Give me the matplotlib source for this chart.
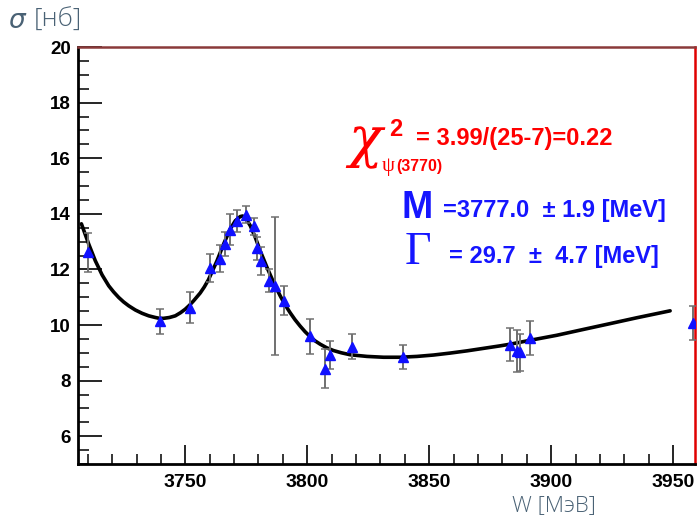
import matplotlib
matplotlib.use("Agg")
import matplotlib.pyplot as plt
from matplotlib.ticker import MultipleLocator

# measured cross section points: W [MeV], sigma [nb], error
energy = [3710.1, 3739.8, 3751.8, 3760.1, 3764.1, 3766.1, 3768.2, 3771.4,
          3775.0, 3778.0, 3779.5, 3781.1, 3784.5, 3786.7, 3790.3, 3801.2,
          3807.4, 3809.4, 3818.3, 3839.2, 3883.2, 3885.9, 3887.3, 3891.4,
          3958.3]
sigma = [12.61, 10.14, 10.62, 12.04, 12.38, 12.91, 13.42, 13.73,
         13.97, 13.55, 12.76, 12.31, 11.60, 11.40, 10.88, 9.60,
         8.42, 8.93, 9.21, 8.84, 9.29, 9.07, 9.02, 9.53,
         10.08]
sigma_err = [0.70, 0.45, 0.55, 0.50, 0.48, 0.43, 0.56, 0.40,
             0.31, 0.31, 0.41, 0.50, 0.40, 2.48, 0.53, 0.63,
             0.70, 0.50, 0.45, 0.44, 0.59, 0.75, 0.66, 0.61,
             0.62]

# fit curve
fit_w = [3707.4, 3710.4, 3713.1, 3715.9, 3718.6, 3720.6, 3722.7, 3724.7,
         3726.8, 3729.5, 3732.3, 3735.0, 3737.7, 3739.4, 3741.1, 3743.5,
         3745.9, 3748.0, 3750.0, 3751.7, 3753.4, 3756.1, 3757.8, 3759.5,
         3761.2, 3763.0, 3765.7, 3768.4, 3770.5, 3772.5, 3773.5, 3774.6,
         3776.6, 3778.7, 3780.7, 3783.5, 3786.2, 3788.9, 3790.9, 3793.0,
         3795.0, 3797.1, 3799.1, 3801.2, 3803.2, 3805.3, 3808.0, 3810.8,
         3814.0, 3817.6, 3824.5, 3831.3, 3838.1, 3845.0, 3851.8, 3858.6,
         3865.5, 3872.3, 3879.1, 3883.2, 3891.4, 3902.3, 3913.2, 3924.2,
         3935.1, 3948.8]
fit_s = [13.64, 12.91, 12.31, 11.80, 11.41, 11.19, 10.99, 10.83,
         10.69, 10.54, 10.42, 10.33, 10.27, 10.24, 10.24, 10.27,
         10.33, 10.44, 10.57, 10.71, 10.87, 11.15, 11.37, 11.63,
         11.96, 12.31, 12.91, 13.45, 13.75, 13.90, 13.92, 13.86,
         13.58, 13.15, 12.67, 12.07, 11.53, 11.05, 10.73, 10.44,
         10.19, 9.96, 9.76, 9.58, 9.43, 9.31, 9.18, 9.08,
         9.00, 8.93, 8.87, 8.84, 8.84, 8.87, 8.92, 8.99,
         9.07, 9.16, 9.25, 9.31, 9.45, 9.63, 9.84, 10.05,
         10.26, 10.51]

W, H = 698, 518
fig = plt.figure(figsize=(W / 100, H / 100), dpi=100)
ax = fig.add_axes([78 / W, 1 - 464 / H, (695 - 78) / W, (464 - 47) / H])

ax.plot(fit_w, fit_s, color="black", lw=2.6, zorder=3,
        solid_capstyle="round", solid_joinstyle="round")
_, caps, _ = ax.errorbar(
    energy, sigma, yerr=sigma_err, fmt="^", color="#1010ff", markersize=7.5,
    ecolor="#707070", elinewidth=1.4, capsize=3, capthick=1.1, zorder=4,
)
for c in caps:
    c.set_color("black")

ax.set_xlim(3706, 3959)
ax.set_ylim(5, 20)
ax.xaxis.set_major_locator(MultipleLocator(50))
ax.xaxis.set_minor_locator(MultipleLocator(10))
ax.yaxis.set_major_locator(MultipleLocator(2))
ax.yaxis.set_minor_locator(MultipleLocator(0.5))
ax.tick_params(which="both", direction="in", top=False, right=False,
               color="black")
ax.tick_params(axis="y", which="major", length=17, width=1.2, pad=5)
ax.tick_params(axis="y", which="minor", length=8, width=1.1)
ax.tick_params(axis="x", which="major", length=14, width=1.2, pad=7)
ax.tick_params(axis="x", which="minor", length=7, width=1.1)
for lab in ax.get_xticklabels():
    lab.set_fontfamily("Liberation Sans")
    lab.set_fontweight("bold")
    lab.set_fontsize(14)
for lab in ax.get_yticklabels():
    lab.set_fontfamily("Liberation Sans")
    lab.set_fontweight("bold")
    lab.set_fontsize(13.5)

ax.spines["left"].set_color("black")
ax.spines["bottom"].set_color("black")
ax.spines["left"].set_linewidth(2)
ax.spines["bottom"].set_linewidth(2)
ax.spines["top"].set_color("#8a3a3a")
ax.spines["right"].set_color("#e00000")
ax.spines["top"].set_linewidth(1.8)
ax.spines["right"].set_linewidth(1.8)

axis_col = "#4a6275"
fig.text(8 / W, 1 - 21 / H, r"$\sigma$", fontsize=19, color=axis_col,
         va="center", ha="left")
fig.text(34 / W, 1 - 20 / H, "[нб]", fontsize=19, color=axis_col,
         family="Open Sans", weight="light", va="center", ha="left")
fig.text(512 / W, 1 - 506 / H, "W [МэВ]", fontsize=16, color=axis_col,
         family="Open Sans", weight="light", va="center", ha="left")

red = "#ff0000"
blue = "#1515ff"
fig.text(348 / W, 1 - 142 / H, "χ", fontsize=40, color=red,
         family="DejaVu Serif", style="italic", va="center", ha="left")
fig.text(389 / W, 1 - 129 / H, "2", fontsize=17, color=red,
         family="Liberation Sans", weight="bold", va="center", ha="left")
fig.text(382 / W, 1 - 166 / H, "ψ", fontsize=15, color=red,
         family="Liberation Serif", va="center", ha="left")
fig.text(396 / W, 1 - 166 / H, "(3770)", fontsize=11.5, color=red,
         family="Liberation Sans", weight="bold", va="center", ha="left")
fig.text(416 / W, 1 - 139 / H, "= 3.99/(25-7)=0.22", fontsize=17, color=red,
         family="Liberation Sans", weight="bold", va="center", ha="left")

fig.text(401 / W, 1 - 208 / H, "M", fontsize=27, color=blue,
         family="Liberation Sans", weight="bold", va="center", ha="left")
fig.text(443 / W, 1 - 211 / H, "=3777.0  ± 1.9 [MeV]", fontsize=17,
         color=blue, family="Liberation Sans", weight="bold",
         va="center", ha="left")
fig.text(405 / W, 1 - 253 / H, "Γ", fontsize=33, color=blue,
         family="Liberation Serif", va="center", ha="left")
fig.text(449 / W, 1 - 257 / H, "= 29.7  ±  4.7 [MeV]", fontsize=17,
         color=blue, family="Liberation Sans", weight="bold",
         va="center", ha="left")

fig.savefig("out.png", dpi=100)
